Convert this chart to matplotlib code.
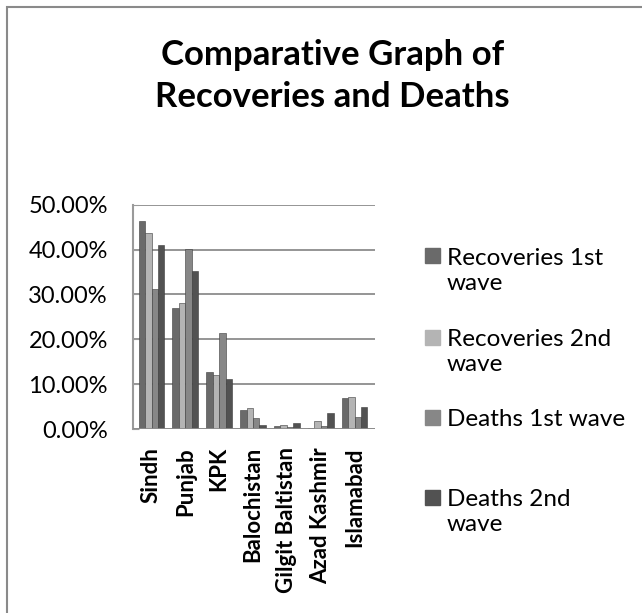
import matplotlib.pyplot as plt
import numpy as np
from matplotlib.patches import Rectangle
from matplotlib.ticker import PercentFormatter

provinces = ["Sindh", "Punjab", "KPK", "Balochistan", "Gilgit Baltistan", "Azad Kashmir", "Islamabad"]
series_names = ["Recoveries 1st\nwave", "Recoveries 2nd\nwave", "Deaths 1st wave", "Deaths 2nd\nwave"]
recoveries_1st = [46.3, 27.0, 12.7, 4.2, 0.6, 0.2, 6.9]
recoveries_2nd = [43.7, 28.0, 12.0, 4.6, 1.0, 1.8, 7.1]
deaths_1st = [31.3, 40.2, 21.5, 2.4, 0.4, 0.7, 2.6]
deaths_2nd = [41.1, 35.2, 11.1, 0.9, 1.3, 3.5, 5.0]
colors = ["#6a6a6a", "#b4b4b4", "#878787", "#525252"]

plt.rcParams['font.family'] = ['Lato', 'DejaVu Sans']

fig = plt.figure(figsize=(6.42, 6.13), dpi=100)
ax = fig.add_axes([0.207, 0.300, 0.377, 0.366])

x = np.arange(len(provinces))
w = 0.19
all_series = [recoveries_1st, recoveries_2nd, deaths_1st, deaths_2nd]
for i, vals in enumerate(all_series):
    ax.bar(x + (i - 1.5) * w, vals, w, color=colors[i],
           edgecolor="#3c3c3c", linewidth=0.4, zorder=3)

ax.set_xlim(-0.55, 6.6)
ax.set_ylim(0, 50)
ax.set_yticks(np.arange(0, 51, 10))
ax.yaxis.set_major_formatter(PercentFormatter(decimals=2))
ax.grid(axis='y', color="#8c8c8c", linewidth=1.3, zorder=0)
for s in ["top", "right", "bottom"]:
    ax.spines[s].set_visible(False)
ax.spines["left"].set_color("#9a9a9a")
ax.spines["left"].set_linewidth(1.5)
ax.axhline(0, color="#8c8c8c", linewidth=2, zorder=4)
ax.tick_params(axis='y', length=4, direction='in', color="#9a9a9a", pad=18, labelsize=17)
ax.tick_params(axis='x', length=0, pad=13)
ax.set_xticks(x)
ax.set_xticklabels(provinces, rotation=90, fontsize=16, fontweight='bold', va='top')

fig.text(0.518, 0.876, "Comparative Graph of\nRecoveries and Deaths", ha='center', va='center',
         fontsize=25, fontweight='bold', linespacing=1.42)

# legend drawn by hand so markers line up with the first text line
leg_y = [256, 337, 417, 497]
for name, c, yp in zip(series_names, colors, leg_y):
    fy = 1 - yp / 613
    fig.add_artist(Rectangle((425 / 642, fy - 7.5 / 613), 15 / 642, 15 / 613,
                             transform=fig.transFigure, color=c))
    fig.text(447 / 642, fy + 8 / 613, name, ha='left', va='top', fontsize=17.5, linespacing=1.25)

fig.add_artist(Rectangle((7 / 642, -0.1), 1.2, 1.1 - 7 / 613, transform=fig.transFigure,
                         fill=False, edgecolor="#8a8a8a", linewidth=1.5))

fig.savefig("out.png", dpi=100)
